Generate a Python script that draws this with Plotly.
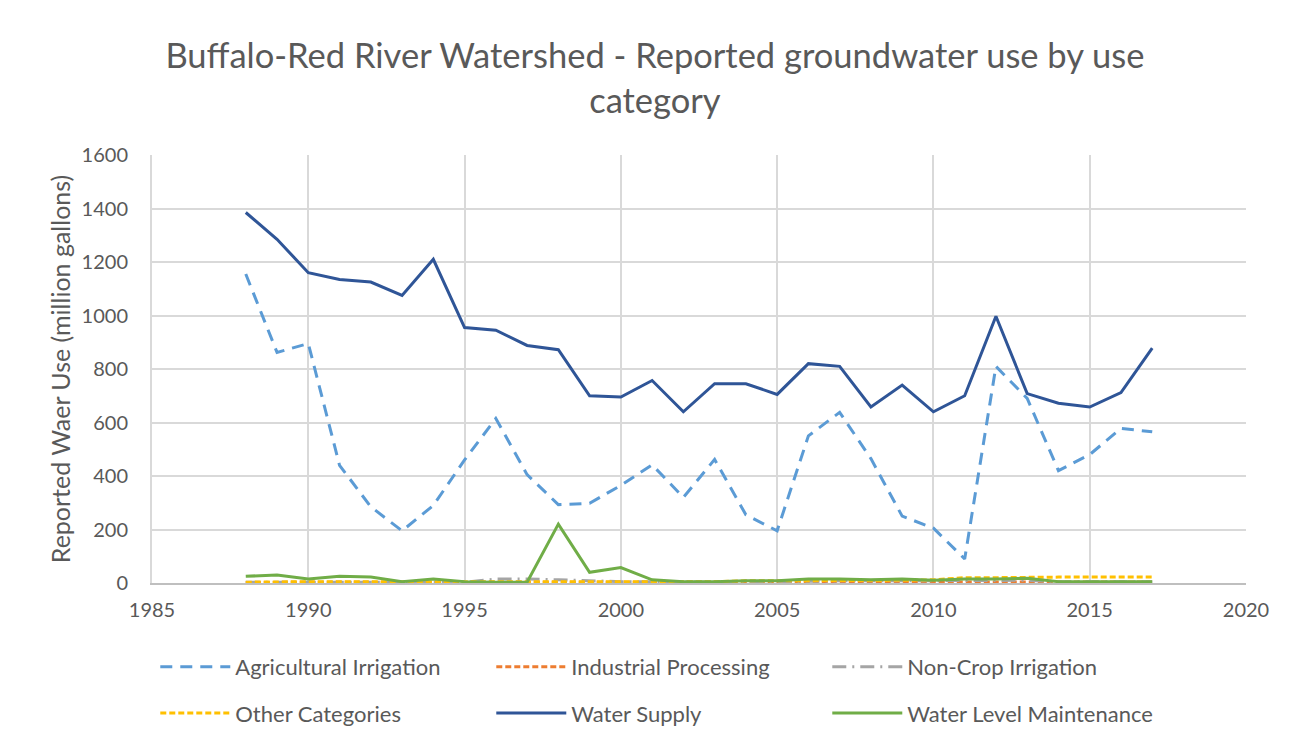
import plotly.graph_objects as go

years = list(range(1988, 2018))

agricultural_irrigation = [1155, 862, 895, 440, 285, 195, 290, 460, 615, 405,
                           293, 298, 365, 442, 320, 462, 255, 195, 550, 638,
                           465, 250, 205, 90, 810, 690, 420, 480, 578, 565]
industrial_processing = [2, 3, 3, 3, 3, 2, 2, 2, 3, 3,
                         3, 3, 3, 3, 3, 3, 3, 3, 3, 3,
                         3, 3, 3, 5, 5, 5, 5, 4, 4, 4]
non_crop_irrigation = [3, 3, 3, 3, 3, 3, 3, 3, 15, 15,
                       12, 8, 5, 5, 3, 3, 3, 5, 8, 8,
                       8, 8, 8, 10, 10, 10, 5, 5, 5, 5]
other_categories = [3, 5, 5, 5, 5, 3, 3, 3, 5, 5,
                    5, 5, 5, 5, 5, 5, 8, 8, 10, 10,
                    10, 10, 12, 20, 20, 22, 22, 22, 22, 22]
water_supply = [1385, 1285, 1160, 1135, 1125, 1075, 1210, 955, 945, 888,
                872, 700, 695, 757, 640, 745, 745, 705, 820, 810,
                658, 740, 640, 700, 997, 708, 672, 658, 712, 878]
water_level_maintenance = [25, 30, 15, 25, 22, 5, 15, 5, 3, 3,
                           220, 40, 58, 12, 5, 5, 8, 8, 15, 15,
                           12, 15, 10, 15, 15, 18, 5, 5, 5, 5]

series = [
    ("Agricultural Irrigation", agricultural_irrigation, "#5b9bd5", "12px,8px", "legend"),
    ("Industrial Processing", industrial_processing, "#ed7d31", "6px,3px", "legend"),
    ("Non-Crop Irrigation", non_crop_irrigation, "#a5a5a5", "14px,6px,2px,6px", "legend"),
    ("Other Categories", other_categories, "#ffc000", "6px,3px", "legend2"),
    ("Water Supply", water_supply, "#2f5597", "solid", "legend2"),
    ("Water Level Maintenance", water_level_maintenance, "#70ad47", "solid", "legend2"),
]

fig = go.Figure()
for name, vals, color, dash, leg in series:
    fig.add_trace(go.Scatter(x=years, y=vals, name=name, mode="lines", legend=leg,
                             line=dict(color=color, width=3, dash=dash)))

font_family = "Lato, 'Open Sans', sans-serif"
leg_common = dict(orientation="h", xanchor="left", yanchor="middle", x=0.003,
                  entrywidth=251, itemwidth=70, bgcolor="rgba(0,0,0,0)",
                  font=dict(size=22, color="#595959", family=font_family))
fig.update_layout(
    width=1299, height=743,
    margin=dict(l=144, r=61, t=147, b=168),
    paper_bgcolor="white", plot_bgcolor="white",
    font=dict(family=font_family, color="#595959", size=20),
    title=dict(text="Buffalo-Red River Watershed - Reported groundwater use by use<br>category",
               x=0.498, xanchor="center", y=0.919, yanchor="middle",
               font=dict(size=34.5, color="#595959", family=font_family)),
    xaxis=dict(range=[1985, 2020], dtick=5, tick0=1985, showgrid=True,
               gridcolor="#d9d9d9", gridwidth=2, showline=True, linecolor="#bfbfbf",
               linewidth=2, zeroline=False, ticks="outside", ticklen=8,
               tickcolor="rgba(0,0,0,0)", tickfont=dict(size=20)),
    yaxis=dict(range=[0, 1600], dtick=200, showgrid=True, gridcolor="#d9d9d9",
               gridwidth=2, zeroline=False, showline=True, linecolor="#d9d9d9",
               linewidth=2, ticks="outside", ticklen=18, tickcolor="rgba(0,0,0,0)",
               tickfont=dict(size=20),
               title=dict(text="Reported Waer Use (million gallons)", font=dict(size=25),
                          standoff=4)),
    legend=dict(y=-0.196, **leg_common),
    legend2=dict(y=-0.304, **leg_common),
    showlegend=True,
)

fig.write_html("out.html")
